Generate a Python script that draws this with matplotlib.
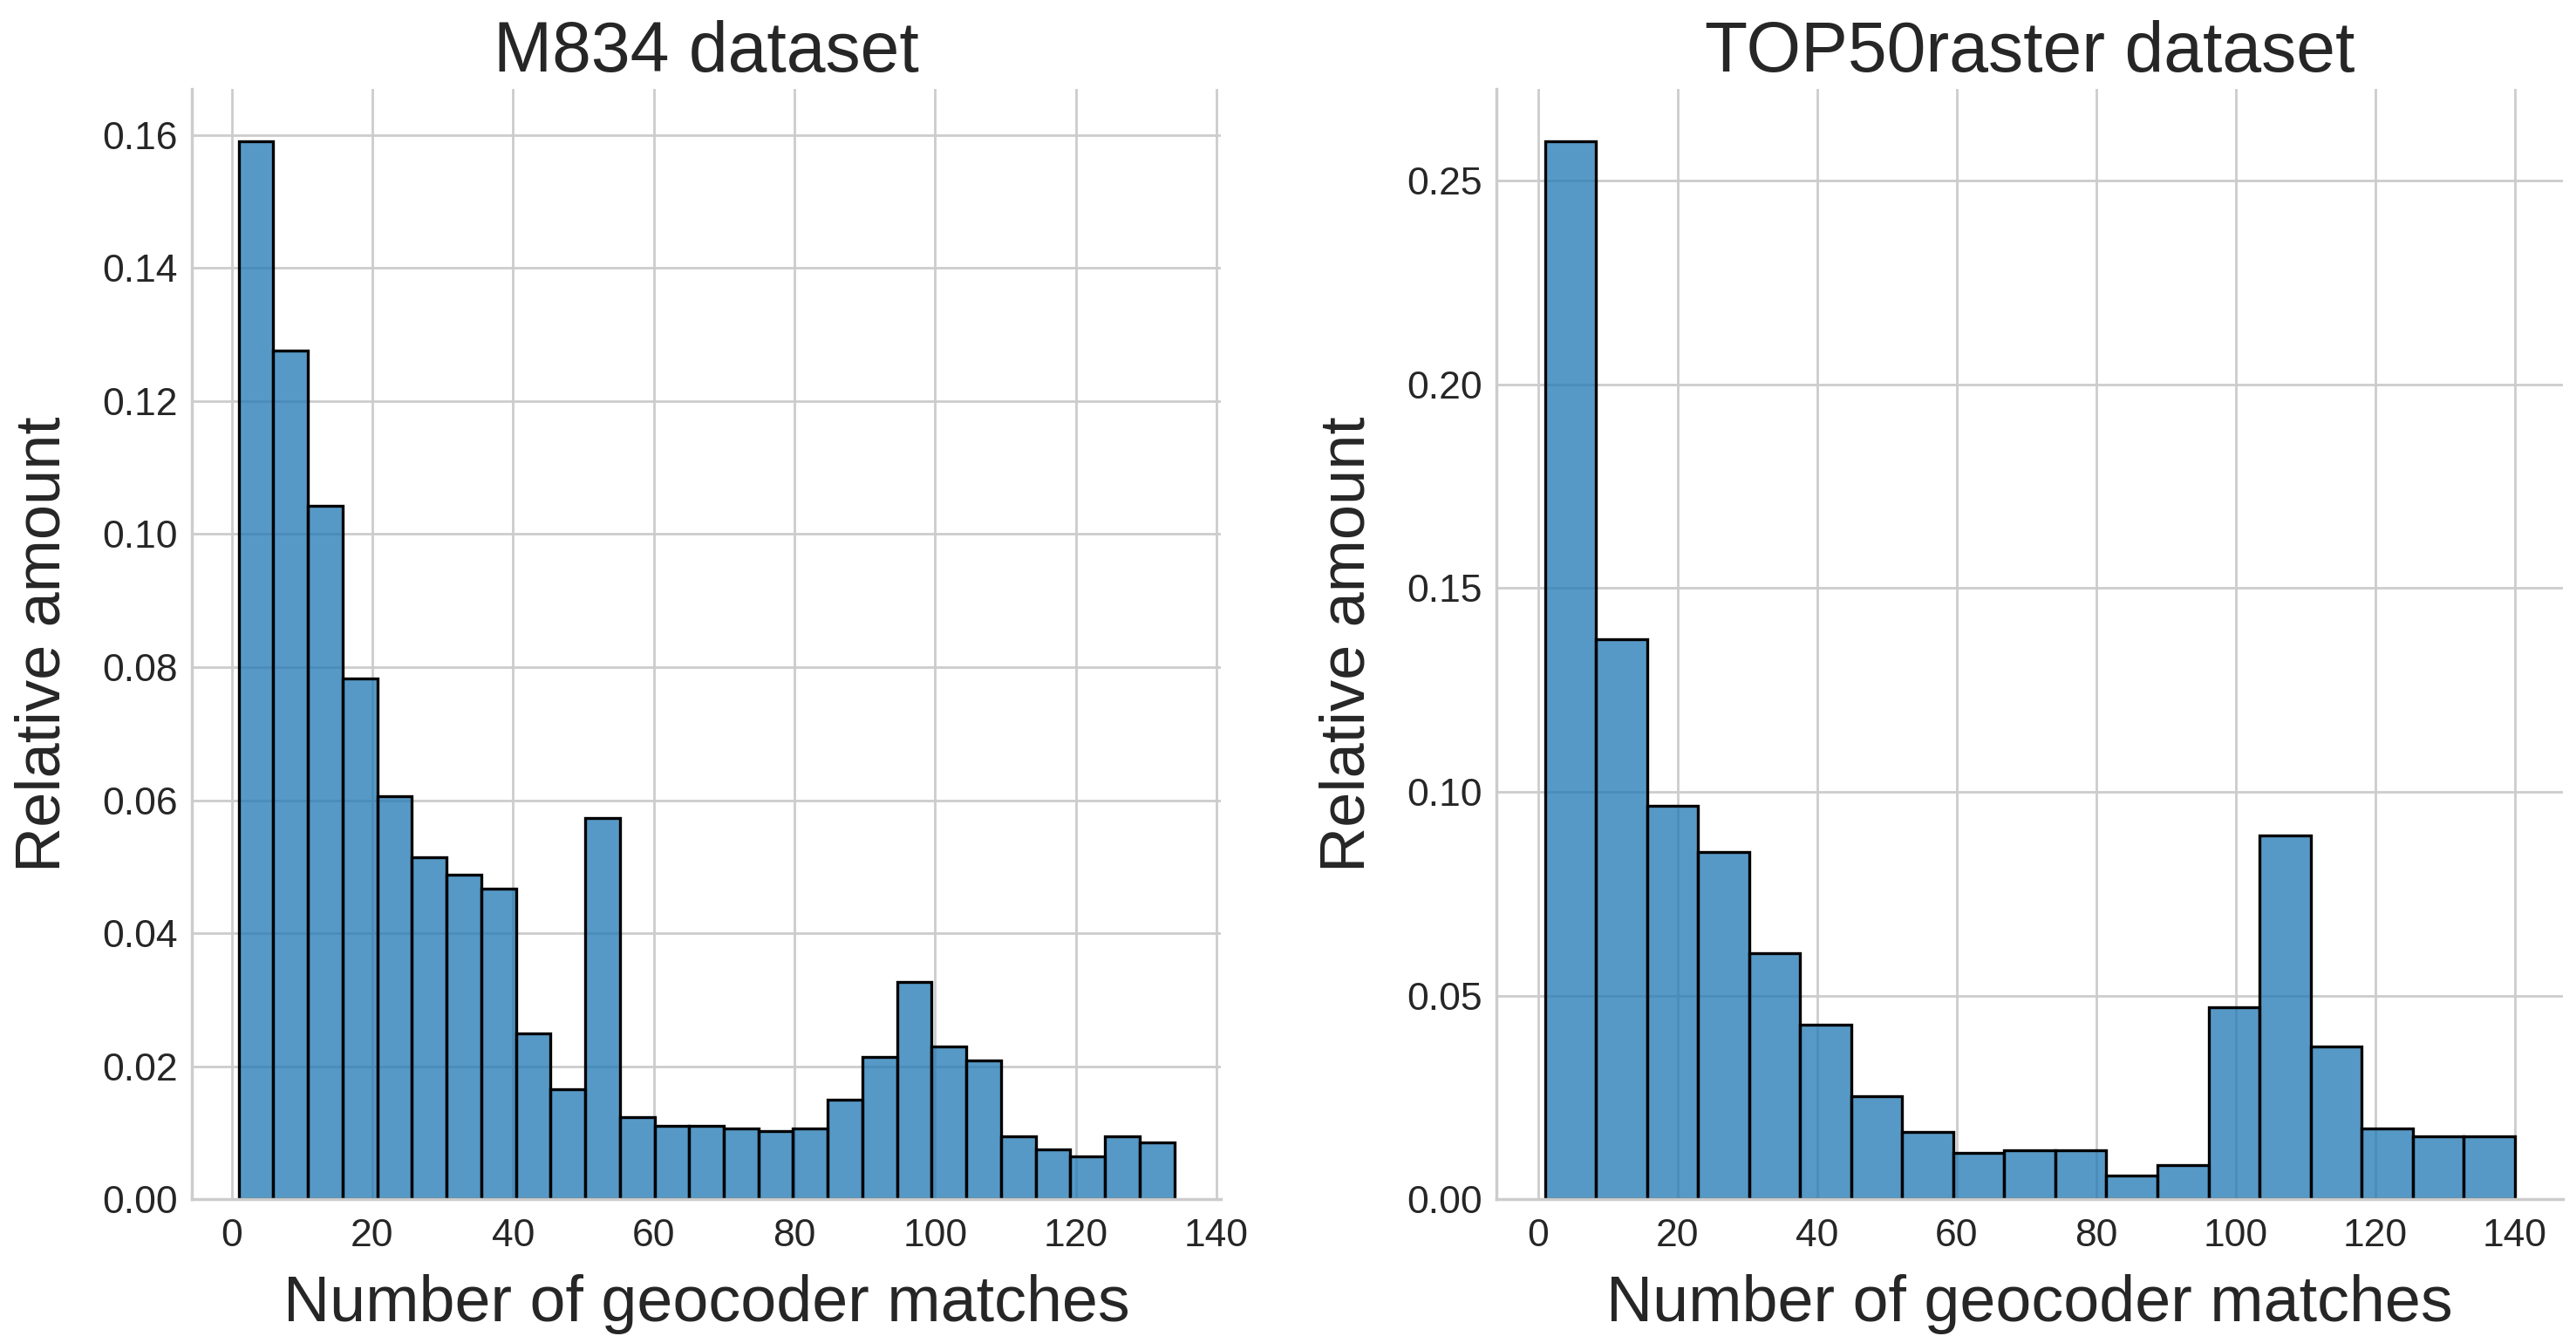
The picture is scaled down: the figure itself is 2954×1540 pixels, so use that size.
import numpy as np
import matplotlib
matplotlib.use("Agg")
import matplotlib.pyplot as plt
from matplotlib.colors import to_rgba

# Relative amount per bin
m834_range = (1, 134)
m834_rel = [0.159, 0.1276, 0.1043, 0.0783, 0.0606, 0.0514, 0.0488, 0.0467,
            0.0250, 0.0165, 0.0573, 0.0123, 0.0111, 0.0111, 0.0106, 0.0102,
            0.0106, 0.0150, 0.0214, 0.0327, 0.0230, 0.0209, 0.0095, 0.0075,
            0.0064, 0.0095, 0.0085]

top50_range = (1, 140)
top50_rel = [0.2596, 0.1374, 0.0966, 0.0852, 0.0604, 0.0429, 0.0253, 0.0166,
             0.0113, 0.0121, 0.0121, 0.0058, 0.0083, 0.0472, 0.0894, 0.0374,
             0.0173, 0.0155, 0.0155]

titles = ["M834 dataset", "TOP50raster dataset"]
xlabel = "Number of geocoder matches"
ylabel = "Relative amount"

plt.rcParams['font.family'] = ['Liberation Sans', 'DejaVu Sans']
plt.rcParams['text.color'] = '.15'
plt.rcParams['axes.labelcolor'] = '.15'
plt.rcParams['xtick.color'] = '.15'
plt.rcParams['ytick.color'] = '.15'

fig, axes = plt.subplots(1, 2, figsize=(14.77, 7.7), dpi=200,
                         gridspec_kw={'width_ratios': [1180, 1223]})
fig.subplots_adjust(left=0.0745, right=0.995, bottom=0.107, top=0.934, wspace=0.263)

face = to_rgba('#1f77b4', 0.75)

for ax, title, (lo, hi), vals in zip(axes, titles,
                                     [m834_range, top50_range],
                                     [m834_rel, top50_rel]):
    edges = np.linspace(lo, hi, len(vals) + 1)
    ax.bar(edges[:-1], vals, width=np.diff(edges), align='edge',
           facecolor=face, edgecolor='black', linewidth=1.2)
    # seaborn whitegrid look
    ax.set_axisbelow(True)
    ax.grid(True, color='.8', linewidth=1)
    for side in ['top', 'right']:
        ax.spines[side].set_visible(False)
    for side in ['left', 'bottom']:
        ax.spines[side].set_color('.8')
        ax.spines[side].set_linewidth(1.25)
    ax.tick_params(length=0, labelsize=16)
    ax.tick_params(axis='x', pad=8)
    ax.tick_params(axis='y', pad=6)
    ax.set_xticks(np.arange(0, 141, 20))
    ax.set_title(title, fontsize=29, pad=7)
    ax.set_xlabel(xlabel, fontsize=26.5, labelpad=8)
    ax.set_ylabel(ylabel, fontsize=26, labelpad=12)

axes[0].set_yticks(np.arange(0, 0.161, 0.02))
axes[1].set_yticks(np.arange(0, 0.26, 0.05))

fig.savefig("out.png", dpi=200)
